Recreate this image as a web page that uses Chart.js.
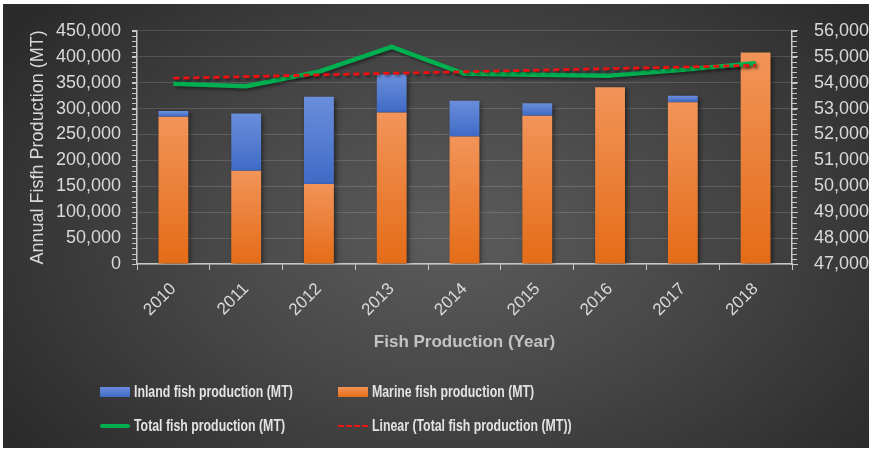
<!DOCTYPE html>
<html><head><meta charset="utf-8">
<script src="https://cdn.jsdelivr.net/npm/chart.js@4.4.1/dist/chart.umd.min.js"></script>
<style>
html,body{margin:0;padding:0;background:#fff;width:869px;height:450px;overflow:hidden;}
#wrap{position:absolute;left:3px;top:4px;width:866px;height:444px;
background: radial-gradient(ellipse 62% 78% at 52% 52%, #5c5c5c 0%, #484848 45%, #2b2b2b 100%);}
#c{position:absolute;left:0;top:0;}
.leg{position:absolute;height:20px;display:flex;align-items:center;white-space:nowrap;
font:bold 16px "Liberation Sans",Arial,sans-serif;color:#e3e3e3;}
.leg span{display:inline-block;transform:scaleX(0.77);transform-origin:left center;}
.sw{width:30px;margin-right:4px;}
</style></head>
<body><div id="wrap"><canvas id="c" width="866" height="444"></canvas><div id="legend"></div></div>
<script>
// ---- data ----
const years  = ['2010','2011','2012','2013','2014','2015','2016','2017','2018'];
const marine = [284000, 180000, 154500, 292500, 246000, 286000, 341000, 312000, 408000];
const inland = [11000, 110500, 168000, 73000, 69000, 24000, 0, 12500, 0];
const total  = [53960, 53860, 54420, 55380, 54340, 54300, 54270, 54500, 54750];
const trend  = [54170, 54230, 54300, 54360, 54420, 54480, 54540, 54600, 54670];
const leftTicks  = {min: 0, max: 450000, step: 50000};
const rightTicks = {min: 47000, max: 56000, step: 1000};
const labels = {
  inland: 'Inland fish production (MT)',
  marine: 'Marine fish production (MT)',
  total:  'Total fish production (MT)',
  trend:  'Linear (Total fish production (MT))',
  yTitle: 'Annual Fisfh Production (MT)',
  xTitle: 'Fish Production (Year)'
};

const COL = {
  marineTop:'#f29459', marineBot:'#e46c17',
  inlandTop:'#6a8edb', inlandBot:'#3f6bc6',
  green:'#00b050', red:'#f01010', text:'#d9d9d9', axis:'#c8c8c8'
};

function barGrad(topC, botC, isInland){
  return (ctx) => {
    const c = ctx.chart, ys = c.scales && c.scales.y;
    if (!ys || ctx.type !== 'data') return botC;
    const i = ctx.dataIndex;
    const lo = isInland ? marine[i] : 0;
    const hi = lo + (isInland ? inland[i] : marine[i]);
    const y0 = ys.getPixelForValue(hi), y1 = ys.getPixelForValue(lo);
    if (!isFinite(y0) || !isFinite(y1) || y1 - y0 < 1) return botC;
    const g = c.ctx.createLinearGradient(0, y0, 0, y1);
    g.addColorStop(0, topC); g.addColorStop(1, botC);
    return g;
  };
}

const fmt = v => Number(v).toLocaleString('en-US');

const shadowPlugin = {
  id:'shadow',
  beforeDatasetDraw(chart, args){
    const ctx = chart.ctx; ctx.save();
    const t = chart.data.datasets[args.index].type;
    ctx.shadowColor = t === 'line' ? 'rgba(0,0,0,0.45)' : 'rgba(0,0,0,0.55)';
    ctx.shadowBlur = t === 'line' ? 3 : 5;
    ctx.shadowOffsetX = 2; ctx.shadowOffsetY = 2;
  },
  afterDatasetDraw(chart){ chart.ctx.restore(); }
};

const minorTicks = {
  id:'minor',
  afterDraw(chart){
    const ctx = chart.ctx, y = chart.scales.y, y1 = chart.scales.y1;
    ctx.save(); ctx.strokeStyle = COL.axis; ctx.lineWidth = 1;
    ctx.beginPath();
    for (let v = leftTicks.min; v <= leftTicks.max; v += leftTicks.step/5){
      const p = Math.round(y.getPixelForValue(v)) + 0.5;
      ctx.moveTo(y.right - 5, p); ctx.lineTo(y.right, p);
    }
    for (let v = rightTicks.min; v <= rightTicks.max; v += rightTicks.step/5){
      const p = Math.round(y1.getPixelForValue(v)) + 0.5;
      ctx.moveTo(y1.left, p); ctx.lineTo(y1.left + 5, p);
    }
    ctx.stroke(); ctx.restore();
  }
};

Chart.defaults.font.family = '"Liberation Sans", Arial, sans-serif';
Chart.defaults.color = COL.text;

const chart = new Chart(document.getElementById('c'), {
  data: {
    labels: years,
    datasets: [
      {type:'line', label: labels.total, data: total, yAxisID:'y1', order:1,
       borderColor: COL.green, borderWidth: 4.5, pointRadius: 0, tension: 0, borderJoinStyle:'round'},
      {type:'line', label: labels.trend, data: trend, yAxisID:'y1', order:0,
       borderColor: COL.red, borderWidth: 2.8, borderDash:[6,4], pointRadius: 0, tension: 0},
      {type:'bar', label: labels.marine, data: marine, yAxisID:'y', order:2, stack:'s',
       backgroundColor: barGrad(COL.marineTop, COL.marineBot, false), borderWidth:0},
      {type:'bar', label: labels.inland, data: inland, yAxisID:'y', order:2, stack:'s',
       backgroundColor: barGrad(COL.inlandTop, COL.inlandBot, true), borderWidth:0}
    ]
  },
  options: {
    responsive: false, animation: false,
    layout: {padding: {left: 20, top: 22, right: 0, bottom: 93}},
    datasets: {bar: {barPercentage: 0.41, categoryPercentage: 1}},
    plugins: {legend: {display:false}, tooltip:{enabled:false}},
    scales: {
      x: {
        stacked: true, offset: true,
        grid: {display: true, drawOnChartArea: false, tickLength: 6, color: COL.axis, offset: true},
        border: {color: COL.axis, width: 1.5},
        ticks: {minRotation: 45, maxRotation: 45, autoSkip: false, padding: 9,
                font: {size: 17}, color: COL.text},
        title: {display: true, text: labels.xTitle, color: '#c4c4c4',
                font: {size: 17, weight: 'bold'}, padding: {top: 4, bottom: 2}},
        afterFit: s => { s.height = 91; }
      },
      y: {
        stacked: true, position: 'left',
        min: leftTicks.min, max: leftTicks.max,
        ticks: {stepSize: leftTicks.step, callback: fmt, font: {size: 18}, padding: 11, color: COL.text},
        grid: {color: 'rgba(255,255,255,0.14)', tickLength: 5, tickColor: COL.axis},
        border: {color: COL.axis, width: 1.5},
        title: {display: true, text: labels.yTitle, color: COL.text, font: {size: 18}, padding: {top:4, bottom:4}},
        afterFit: s => { s.width = 114; }
      },
      y1: {
        position: 'right',
        min: rightTicks.min, max: rightTicks.max,
        ticks: {stepSize: rightTicks.step, callback: fmt, font: {size: 18}, padding: 16, color: COL.text},
        grid: {drawOnChartArea: false, tickLength: 6, color: COL.axis},
        border: {color: COL.axis, width: 1.5},
        afterFit: s => { s.width = 77; }
      }
    }
  },
  plugins: [shadowPlugin, minorTicks]
});

// ---- legend (HTML, built from the chart's datasets) ----
const legendSpec = [
  {label: labels.inland, x: 97,  y: 378},
  {label: labels.marine, x: 335, y: 378},
  {label: labels.total,  x: 97,  y: 412},
  {label: labels.trend,  x: 335, y: 412}
];
const L = document.getElementById('legend');
legendSpec.forEach(it => {
  const ds = chart.data.datasets.find(d => d.label === it.label);
  const row = document.createElement('div');
  row.className = 'leg'; row.style.left = it.x + 'px'; row.style.top = it.y + 'px';
  const sw = document.createElement('div'); sw.className = 'sw';
  if (ds.type === 'bar') {
    const isIn = it.label === labels.inland;
    sw.style.height = '10px';
    sw.style.background = isIn ? `linear-gradient(${COL.inlandTop},${COL.inlandBot})` : `linear-gradient(${COL.marineTop},${COL.marineBot})`;
  } else if (ds.borderDash) {
    sw.style.height = '0'; sw.style.borderTop = '2.5px dashed ' + COL.red;
  } else {
    sw.style.height = '4px'; sw.style.background = COL.green; sw.style.borderRadius = '2px';
  }
  const tx = document.createElement('span'); tx.textContent = it.label;
  row.appendChild(sw); row.appendChild(tx); L.appendChild(row);
});
</script>
</body></html>
